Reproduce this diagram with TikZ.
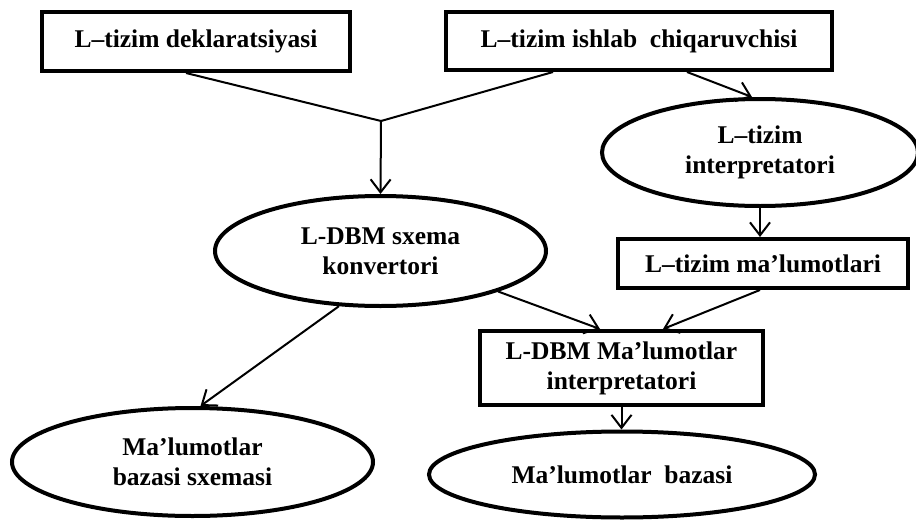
\documentclass[tikz,border=0pt]{standalone}
\usepackage{fontspec}
\setmainfont{Liberation Serif}
\usetikzlibrary{shapes.geometric,arrows.meta}

\begin{document}
\begin{tikzpicture}[x=1pt,y=1pt,yscale=-1,
  blok/.style={draw,rectangle,line width=4pt,inner sep=0pt,align=center,
    font=\bfseries\fontsize{25.5}{30}\selectfont},
  oval/.style={draw,ellipse,line width=4pt,inner sep=0pt,align=center,
    font=\bfseries\fontsize{25.5}{30}\selectfont},
  link/.style={line width=2pt},
  arr/.style={link,-{Straight Barb[length=13pt,width=20pt]}}]
\useasboundingbox (0,0) rectangle (916,522);

%Shape: Rectangle [decl]
\node [blok,minimum width=308,minimum height=59] (decl) at (196,41.5) {L–tizim deklaratsiyasi};
%Shape: Rectangle [gen]
\node [blok,minimum width=386,minimum height=58] (gen) at (639,41) {L–tizim ishlab\ \ chiqaruvchisi};
%Shape: Ellipse [interp]
\node [oval,minimum width=316,minimum height=107] (interp) at (760,152.5) {L–tizim\\interpretatori};
%Shape: Ellipse [conv]
\node [oval,minimum width=331,minimum height=110] (conv) at (380.5,251) {L-DBM sxema\\konvertori};
%Shape: Rectangle [data]
\node [blok,minimum width=290,minimum height=49] (data) at (763,263.5) {L–tizim ma’lumotlari};
%Shape: Rectangle [ldbm]
\node [blok,minimum width=283,minimum height=74] (ldbm) at (621.5,368) {L-DBM Ma’lumotlar\\interpretatori};
%Shape: Ellipse [schema]
\node [oval,minimum width=361,minimum height=108] (schema) at (192.5,462) {Ma’lumotlar\\bazasi sxemasi};
%Shape: Ellipse [base]
\node [oval,minimum width=386,minimum height=86] (base) at (622,474.5) {Ma’lumotlar\ \ bazasi};

%Straight Lines [junction]
\coordinate (J) at (381,121);
\draw [link] ([xshift=-10]decl.south) -- (J);
\draw [link] ([xshift=-86]gen.south) -- (J);
\draw [arr] (J) -- (conv.north);
\draw [arr] ([xshift=48]gen.south) -- ([xshift=-8]interp.north);
\draw [arr] (interp.south) -- (interp.south |- data.north);
\draw [arr] (conv.-19) -- ([xshift=-21.5]ldbm.north);
\draw [arr] ([xshift=-3]data.south) -- ([xshift=41.5]ldbm.north);
\draw [arr] (conv.-127) -- ([xshift=8]schema.north);
\draw [arr] (ldbm.south) -- (ldbm.south |- base.north);

\end{tikzpicture}
\end{document}
